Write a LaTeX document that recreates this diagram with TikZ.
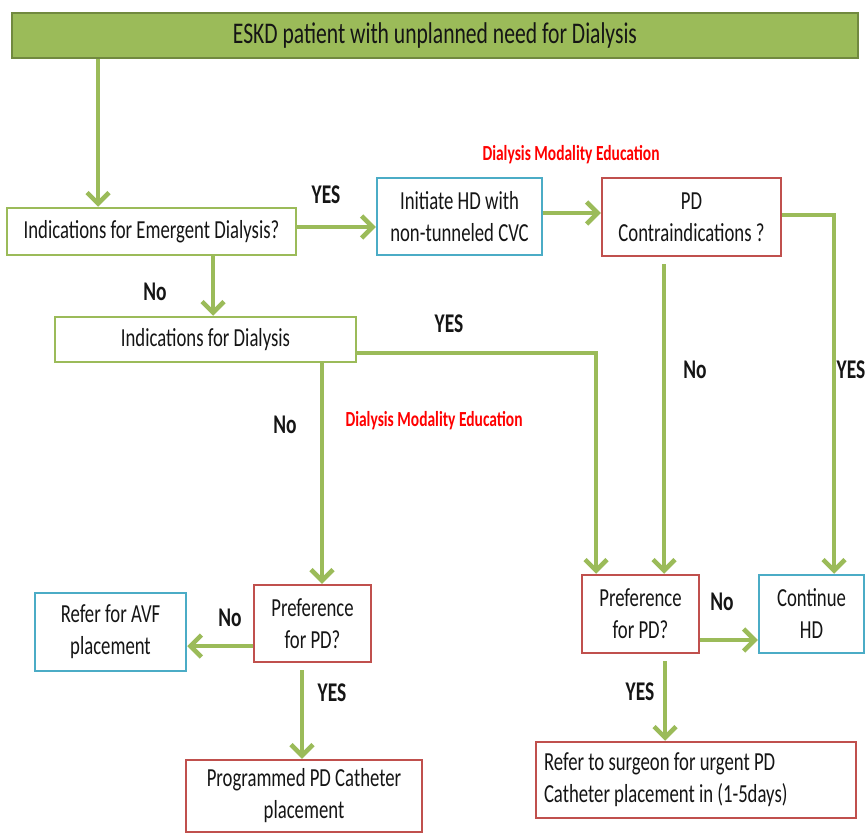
\documentclass[tikz,border=0pt]{standalone}
\usepackage{fontspec}
\setmainfont{Carlito}[FakeStretch=0.72]
\usetikzlibrary{arrows.meta}
\definecolor{ggreen}{HTML}{9BBB59}
\definecolor{gdark}{HTML}{71893F}
\definecolor{bred}{HTML}{C0504D}
\definecolor{bblue}{HTML}{4BACC6}
\definecolor{txt}{HTML}{151515}
\begin{document}
\begin{tikzpicture}[x=1pt,y=-1pt,
  box/.style={draw, line width=2.5pt, fill=white, inner sep=0pt, align=center, text=txt, font=\fontsize{26}{32}\selectfont},
  gbox/.style={box, draw=ggreen},
  rbox/.style={box, draw=bred},
  bbox/.style={box, draw=bblue},
  arr/.style={draw=ggreen, line width=4.5pt, -{Straight Barb[length=11pt,width=22pt]}},
  lbl/.style={font=\bfseries\fontsize{27}{32}\selectfont, text=txt, inner sep=0pt},
  edu/.style={font=\bfseries\fontsize{21.5}{26}\selectfont, text=red, inner sep=0pt}]
\useasboundingbox[fill=white] (0,0) rectangle (866,834);

% boxes
\node[draw=gdark, fill=ggreen, line width=2pt, minimum width=846pt, minimum height=45pt, inner sep=0pt,
      font=\fontsize{30}{36}\selectfont, text=txt] (top) at (435,35.5) {ESKD patient with unplanned need for Dialysis};
\node[gbox, minimum width=289pt, minimum height=47pt] (emerg) at (151.5,231.5) {Indications for Emergent Dialysis?};
\node[bbox, minimum width=165pt, minimum height=77pt] (init) at (459.5,216.5) {Initiate HD with\\non-tunneled CVC};
\node[rbox, minimum width=179pt, minimum height=78pt] (pdc) at (691.5,217) {PD\\Contraindications ?};
\node[gbox, minimum width=301pt, minimum height=45pt] (ind) at (205.5,339.5) {Indications for Dialysis};
\node[rbox, minimum width=117pt, minimum height=77pt] (prefL) at (312.5,623.5) {Preference\\for PD?};
\node[bbox, minimum width=151pt, minimum height=78pt] (avf) at (110.5,632) {Refer for AVF\\placement};
\node[rbox, minimum width=236pt, minimum height=72pt] (prog) at (304,796) {Programmed PD Catheter\\placement};
\node[rbox, minimum width=117pt, minimum height=78pt] (prefR) at (640.5,614) {Preference\\for PD?};
\node[bbox, minimum width=105pt, minimum height=78pt] (cont) at (811.5,614) {Continue\\HD};
\node[rbox, minimum width=320pt, minimum height=76pt, text width=304pt, align=flush left, inner xsep=8pt] (urg) at (696,780)
  {Refer to surgeon for urgent PD\\Catheter placement in (1-5days)};

% helper coordinates
\coordinate (c1) at (98,0);
\coordinate (c2) at (0,227);
\coordinate (c3) at (0,213);
\coordinate (c4) at (834,215);
\coordinate (c5) at (664,0);
\coordinate (c6) at (213,0);
\coordinate (c7) at (596,353);
\coordinate (c8) at (322,0);
\coordinate (c9) at (0,646);
\coordinate (c10) at (302,0);
\coordinate (c11) at (0,640);
\coordinate (c12) at (665,0);

% connectors
\draw[arr] (top.south -| c1) -- (emerg.north -| c1);
\draw[arr] (emerg.east |- c2) -- (init.west |- c2);
\draw[arr] (init.east |- c3) -- (pdc.west |- c3);
\draw[arr] (pdc.east |- c4) -| (cont.north -| c4);
\draw[arr, shorten <=7pt] (pdc.south -| c5) -- (prefR.north -| c5);
\draw[arr] (emerg.south -| c6) -- (ind.north -| c6);
\draw[arr] (ind.east |- c7) -| (prefR.north -| c7);
\draw[arr] (ind.south -| c8) -- (prefL.north -| c8);
\draw[arr] (prefL.west |- c9) -- (avf.east |- c9);
\draw[arr, shorten <=7pt] (prefL.south -| c10) -- (prog.north -| c10);
\draw[arr] (prefR.east |- c11) -- (cont.west |- c11);
\draw[arr, shorten <=7pt] (prefR.south -| c12) -- (urg.north -| c12);

% labels
\node[lbl] (l1) at (326,195) {YES};
\node[lbl] (l2) at (155,292) {No};
\node[lbl] (l3) at (449,324) {YES};
\node[lbl] (l4) at (285,425) {No};
\node[lbl] (l5) at (695,370) {No};
\node[lbl] (l6) at (851,370) {YES};
\node[lbl] (l7) at (230,618) {No};
\node[lbl] (l8) at (332,693) {YES};
\node[lbl] (l9) at (722,602) {No};
\node[lbl] (l10) at (640,692) {YES};
\node[edu] (e1) at (571,155) {Dialysis Modality Education};
\node[edu] (e2) at (434,421) {Dialysis Modality Education};
\end{tikzpicture}
\end{document}
